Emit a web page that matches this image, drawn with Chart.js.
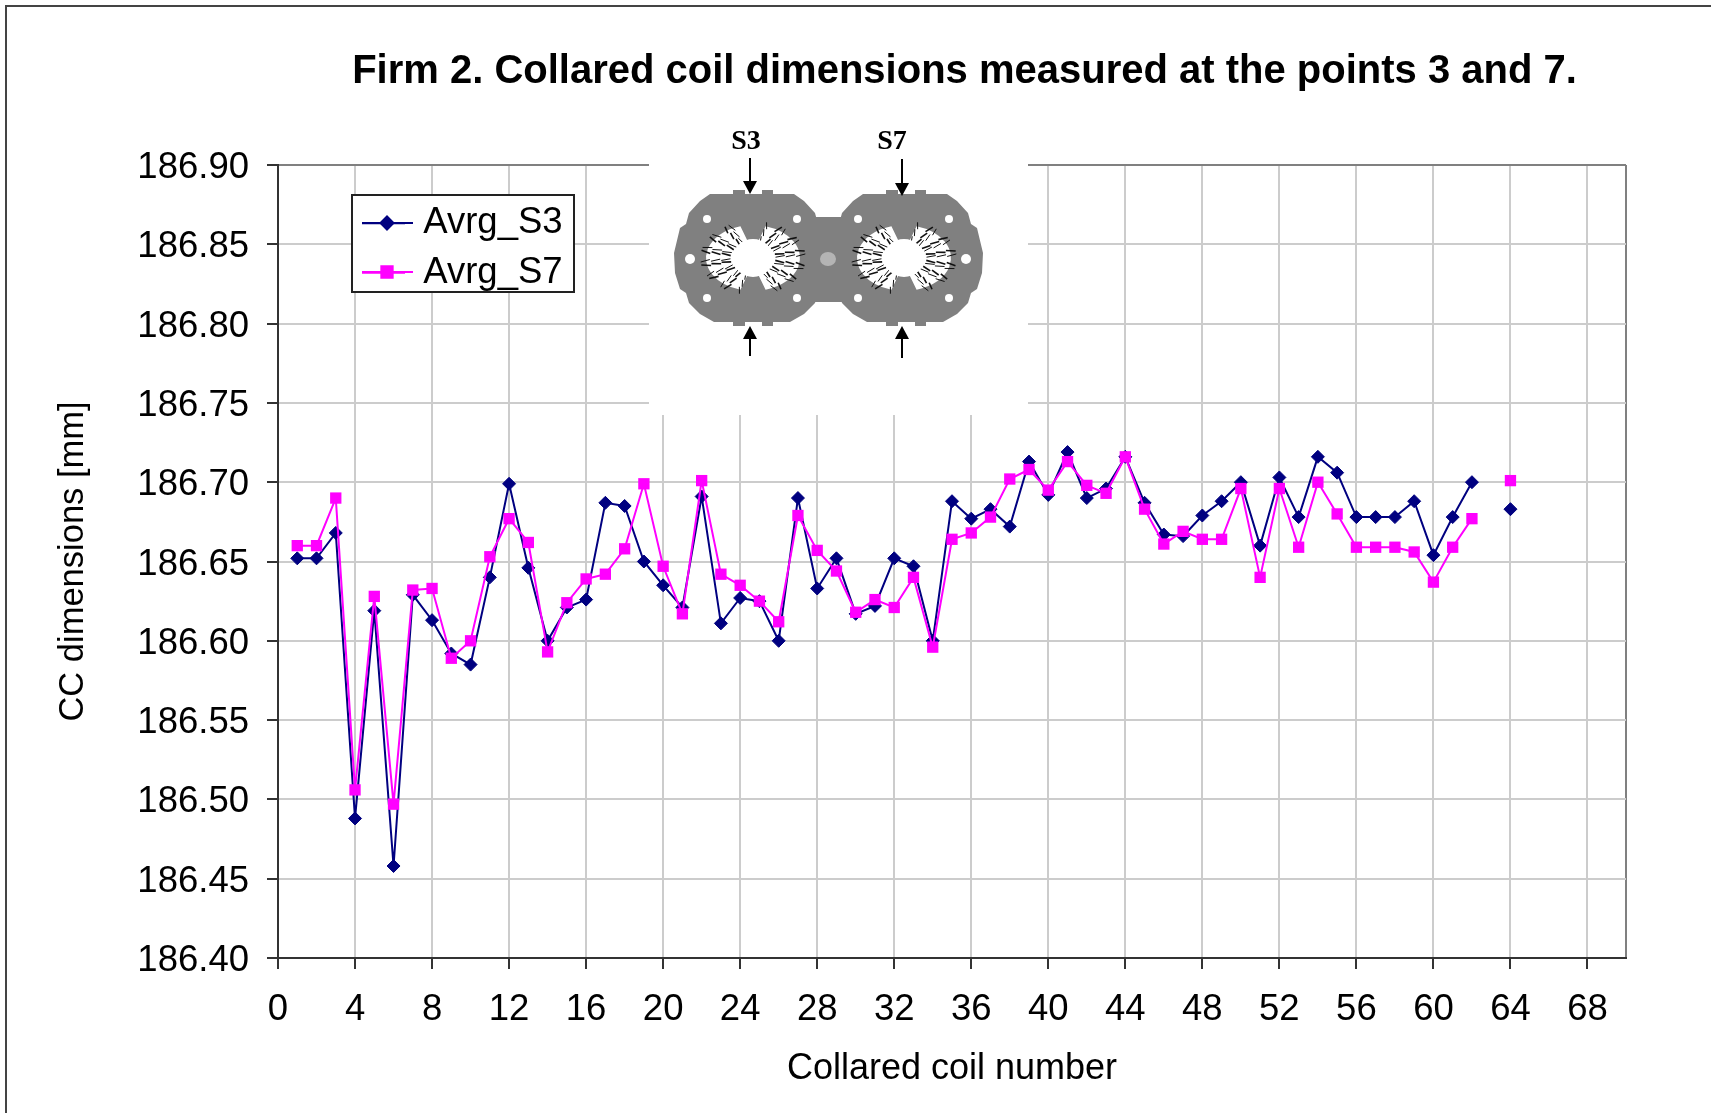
<!DOCTYPE html>
<html>
<head>
<meta charset="utf-8">
<title>Firm 2. Collared coil dimensions</title>
<script src="https://cdn.jsdelivr.net/npm/chart.js@4"></script>
<style>
	html, body { margin: 0; background: #fff; }
	#chart { display: block; filter: blur(0.6px); }
	#wrap { position: relative; width: 1711px; height: 1113px; }
</style>
</head>
<body>
<div id="wrap"><canvas id="chart" width="1711" height="1113"></canvas></div>
<script>
const coilNumbers = [1,2,3,4,5,6,7,8,9,10,11,12,13,14,15,16,17,18,19,20,21,22,23,24,25,26,27,28,29,30,31,32,
	33,34,35,36,37,38,39,40,41,42,43,44,45,46,47,48,49,50,51,52,53,54,55,56,57,58,59,60,61,62,63,64];
const avrgS3 = [186.652,186.652,186.668,186.488,186.619,186.458,186.629,186.613,186.592,186.585,186.640,186.699,186.646,186.600,186.621,186.626,
	186.687,186.685,186.650,186.635,186.621,186.691,186.611,186.627,186.625,186.600,186.690,186.633,186.652,186.617,186.622,186.652,
	186.647,186.600,186.688,186.677,186.683,186.672,186.713,186.692,186.719,186.690,186.696,186.716,186.687,186.667,186.666,186.679,
	186.688,186.700,186.660,186.703,186.678,186.716,186.706,186.678,186.678,186.678,186.688,186.654,186.678,186.700,null,186.683];
const avrgS7 = [186.660,186.660,186.690,186.506,186.628,186.497,186.632,186.633,186.589,186.600,186.653,186.677,186.662,186.593,186.624,186.639,
	186.642,186.658,186.699,186.647,186.617,186.701,186.642,186.635,186.625,186.612,186.679,186.657,186.644,186.618,186.626,186.621,
	186.640,186.596,186.664,186.668,186.678,186.702,186.708,186.695,186.713,186.698,186.693,186.716,186.683,186.661,186.669,186.664,
	186.664,186.696,186.640,186.696,186.659,186.700,186.680,186.659,186.659,186.659,186.656,186.637,186.659,186.677,null,186.701];
const xTicks = [0,4,8,12,16,20,24,28,32,36,40,44,48,52,56,60,64,68,70];
const yTicks = [186.40,186.45,186.50,186.55,186.60,186.65,186.70,186.75,186.80,186.85,186.90];

const navy = '#000080';
const pink = '#ff00ff';
const font = '"Liberation Sans", Arial, sans-serif';

const points = (values) => coilNumbers.map((n, i) => ({x: n, y: values[i]}));

// half outline of one collar lobe
const lobe = [[-42,-64],[-52,-57],[-63,-45],[-66,-34],[-72,-30],[-78,-5],[-77,15],[-72,31],[-66,35],[-63,45],[-52,56],[-38,64]];

function drawLobe(ctx, cx, cy) {
	ctx.beginPath();
	lobe.forEach((p, i) => i ? ctx.lineTo(cx + p[0], cy + p[1]) : ctx.moveTo(cx + p[0], cy + p[1]));
	lobe.slice().reverse().forEach(p => ctx.lineTo(cx - p[0], cy + p[1]));
	ctx.closePath();
	ctx.fill();
	ctx.fillRect(cx - 19, cy - 68, 12, 6);
	ctx.fillRect(cx + 10, cy - 68, 11, 6);
	ctx.fillRect(cx - 19, cy + 62, 12, 6);
	ctx.fillRect(cx + 10, cy + 62, 11, 6);
}

function drawCoil(ctx, cx, cy) {
	ctx.fillStyle = '#fff';
	[0, Math.PI].forEach(base => {
		ctx.beginPath();
		ctx.ellipse(cx, cy, 47, 33, 0, base - 1.3, base + 1.3);
		ctx.ellipse(cx, cy, 14, 14, 0, base + 1.3, base - 1.3, true);
		ctx.closePath();
		ctx.fill();
	});
	ctx.strokeStyle = '#111';
	[0, Math.PI].forEach(base => {
		let flip = 1;
		for (let a = -1.25; a <= 1.25; a += 0.2) {
			flip = -flip;
			for (let r = 0.48; r < 0.92; r += 0.22) {
				ctx.lineWidth = flip > 0 ? 1.6 : 1;
				ctx.beginPath();
				ctx.moveTo(cx + 47 * r * Math.cos(base + a), cy + 33 * r * Math.sin(base + a));
				ctx.lineTo(cx + 47 * (r + 0.2) * Math.cos(base + a + flip * 0.06), cy + 33 * (r + 0.2) * Math.sin(base + a + flip * 0.06));
				ctx.stroke();
			}
		}
	});
	ctx.fillStyle = '#fff';
	ctx.beginPath();
	ctx.ellipse(cx, cy, 20, 19, 0, 0, Math.PI * 2);
	ctx.fill();
}

function drawArrow(ctx, x, y1, y2) {
	const dir = y2 > y1 ? 1 : -1;
	ctx.strokeStyle = '#000';
	ctx.lineWidth = 2;
	ctx.beginPath();
	ctx.moveTo(x, y1);
	ctx.lineTo(x, y2 - dir * 8);
	ctx.stroke();
	ctx.fillStyle = '#000';
	ctx.beginPath();
	ctx.moveTo(x, y2);
	ctx.lineTo(x - 7, y2 - dir * 13);
	ctx.lineTo(x + 7, y2 - dir * 13);
	ctx.closePath();
	ctx.fill();
}

// the cross section picture pasted over the grid
const sectionPicture = {
	id: 'sectionPicture',
	beforeDatasetsDraw(chart) {
		const ctx = chart.ctx;
		ctx.save();
		ctx.fillStyle = '#fff';
		ctx.fillRect(649, 150, 379, 265);
		ctx.fillStyle = '#808080';
		drawLobe(ctx, 752, 258);
		drawLobe(ctx, 905, 258);
		ctx.fillRect(805, 217, 50, 85);
		drawCoil(ctx, 753, 258);
		drawCoil(ctx, 904, 258);
		ctx.fillStyle = '#fff';
		[[707,219,4],[797,219,4],[707,298,4],[797,298,4],[690,259,5],[858,219,4],[949,219,4],[858,298,4],[949,298,4],[966,259,5]].forEach(h => {
			ctx.beginPath();
			ctx.arc(h[0], h[1], h[2], 0, Math.PI * 2);
			ctx.fill();
		});
		ctx.fillStyle = '#b4b4b4';
		ctx.beginPath();
		ctx.ellipse(828, 259, 8, 7, 0, 0, Math.PI * 2);
		ctx.fill();
		drawArrow(ctx, 750, 158, 194);
		drawArrow(ctx, 902, 159, 196);
		drawArrow(ctx, 750, 356, 326);
		drawArrow(ctx, 902, 358, 326);
		ctx.fillStyle = '#000';
		ctx.font = 'bold 28px "Liberation Serif", serif';
		ctx.textAlign = 'center';
		ctx.textBaseline = 'middle';
		ctx.fillText('S3', 746, 142);
		ctx.fillText('S7', 892, 142);
		ctx.restore();
	}
};

// outer frame, title offset and the boxed legend inside the plot
const chartDressing = {
	id: 'chartDressing',
	beforeDraw(chart) {
		const ctx = chart.ctx;
		ctx.save();
		ctx.fillStyle = '#fff';
		ctx.fillRect(0, 0, 1711, 1113);
		ctx.strokeStyle = '#444';
		ctx.lineWidth = 2;
		ctx.beginPath();
		ctx.moveTo(6, 1113);
		ctx.lineTo(6, 6);
		ctx.lineTo(1711, 6);
		ctx.stroke();
		ctx.restore();
	},
	afterLayout(chart) {
		chart.titleBlock.left += 218;
		chart.titleBlock.right += 85;
		const lg = chart.legend;
		lg.left = 349;
		lg.top = 192;
		lg.right = 580;
		lg.bottom = 320;
		lg.width = 231;
		lg.height = 128;
		if (!lg.framed) {
			lg.framed = true;
			const drawLegend = lg.draw.bind(lg);
			lg.draw = function () {
				const ctx = chart.ctx;
				ctx.save();
				ctx.fillStyle = '#fff';
				ctx.fillRect(352, 195, 222, 97);
				ctx.strokeStyle = '#222';
				ctx.lineWidth = 2;
				ctx.strokeRect(352, 195, 222, 97);
				ctx.restore();
				drawLegend();
				ctx.save();
				[[navy, 'rectRot', 6.5, 223], [pink, 'rect', 8, 272]].forEach(m => {
					ctx.strokeStyle = m[0];
					ctx.fillStyle = m[0];
					ctx.lineWidth = 2;
					ctx.beginPath();
					ctx.moveTo(362, m[3]);
					ctx.lineTo(413, m[3]);
					ctx.stroke();
					Chart.helpers.drawPoint(ctx, {pointStyle: m[1], radius: m[2], borderWidth: 1}, 387, m[3]);
				});
				ctx.restore();
			};
		}
	}
};

const ctx = document.getElementById('chart').getContext('2d');
new Chart(ctx, {
	type: 'line',
	plugins: [chartDressing, sectionPicture],
	data: {
		datasets: [
			{
				label: 'Avrg_S3',
				data: points(avrgS3),
				order: 2,
				borderColor: navy,
				backgroundColor: navy,
				borderWidth: 2,
				pointStyle: 'rectRot',
				pointRadius: 6.5,
				pointBackgroundColor: navy,
				pointBorderColor: navy,
				pointBorderWidth: 1,
				tension: 0
			},
			{
				label: 'Avrg_S7',
				data: points(avrgS7),
				order: 1,
				borderColor: pink,
				backgroundColor: pink,
				borderWidth: 2,
				pointStyle: 'rect',
				pointRadius: 8,
				pointBackgroundColor: pink,
				pointBorderColor: pink,
				pointBorderWidth: 0,
				tension: 0
			}
		]
	},
	options: {
		responsive: false,
		animation: false,
		events: [],
		layout: { padding: { left: 0, top: 0, right: 85, bottom: 0 } },
		plugins: {
			tooltip: { enabled: false },
			title: {
				display: true,
				text: 'Firm 2. Collared coil dimensions measured at the points 3 and 7.',
				color: '#000',
				font: { family: font, size: 40, weight: 'bold', lineHeight: 1.2 },
				padding: { top: 48, bottom: 69 }
			},
			legend: {
				position: 'chartArea',
				align: 'start',
				labels: {
					color: '#000',
					font: { family: font, size: 36.5 },
					boxWidth: 43,
					boxHeight: 0,
					padding: 13,
					sort: (a, b) => a.datasetIndex - b.datasetIndex
				}
			}
		},
		scales: {
			x: {
				type: 'linear',
				min: 0,
				max: 70,
				afterBuildTicks: s => { s.ticks = xTicks.map(value => ({value})); },
				afterFit: s => { s.height = 155; },
				ticks: {
					color: '#000',
					font: { family: font, size: 36.5 },
					padding: 19,
					maxRotation: 0,
					autoSkip: false,
					callback: v => v === 70 ? '' : String(v)
				},
				grid: {
					color: c => c.tick && c.tick.value === 70 ? '#808080' : '#cccccc',
					lineWidth: 2,
					tickLength: 11,
					tickColor: c => c.tick && c.tick.value === 70 ? 'rgba(0,0,0,0)' : '#333'
				},
				border: { color: '#333', width: 2 },
				title: {
					display: true,
					text: 'Collared coil number',
					color: '#000',
					font: { family: font, size: 36 },
					padding: { top: 0, bottom: 22 }
				}
			},
			y: {
				type: 'linear',
				min: 186.4,
				max: 186.9,
				afterBuildTicks: s => { s.ticks = yTicks.map(value => ({value})); },
				afterFit: s => { s.width = 278; },
				ticks: {
					color: '#000',
					font: { family: font, size: 36.5 },
					padding: 18,
					labelOffset: 3,
					autoSkip: false,
					callback: v => v.toFixed(2)
				},
				grid: {
					color: c => c.tick && c.tick.value === 186.9 ? '#808080' : '#cccccc',
					lineWidth: 2,
					tickLength: 11,
					tickColor: '#333'
				},
				border: { color: '#333', width: 2 },
				title: {
					display: true,
					text: 'CC dimensions [mm]',
					color: '#000',
					font: { family: font, size: 34.5 },
					padding: { top: 53, bottom: 0 }
				}
			}
		}
	}
});
</script>
</body>
</html>
